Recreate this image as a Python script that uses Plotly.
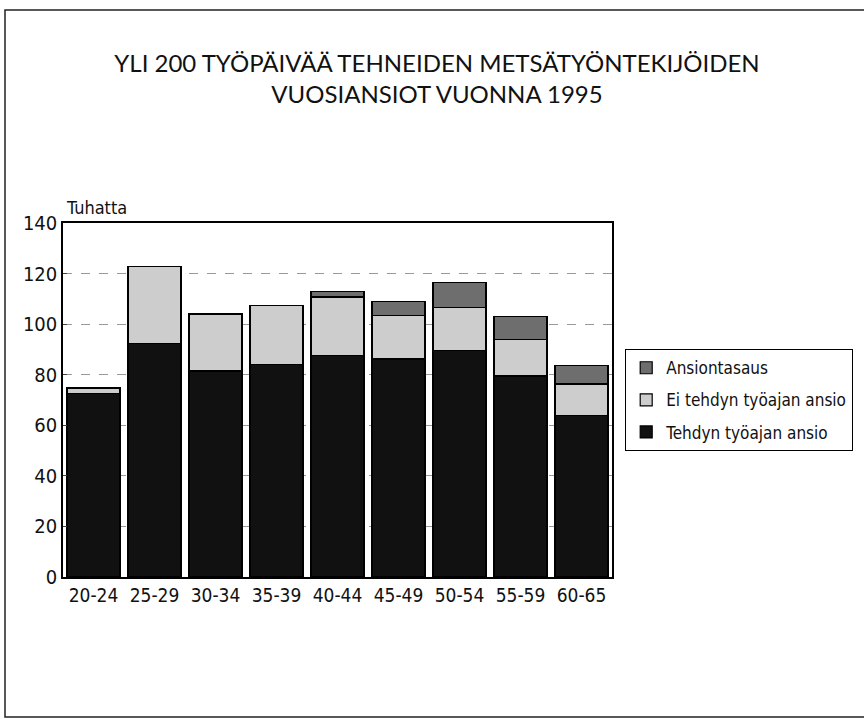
import plotly.graph_objects as go

categories = ["20-24", "25-29", "30-34", "35-39", "40-44", "45-49", "50-54", "55-59", "60-65"]
tehdyn = [72.5, 92.2, 81.5, 83.9, 87.6, 86.2, 89.7, 79.5, 63.9]
ei_tehdyn = [2.0, 30.6, 22.5, 23.4, 23.1, 17.2, 17.0, 14.5, 12.4]
ansiontasaus = [0.3, 0.0, 0.0, 0.0, 2.2, 5.6, 9.8, 8.9, 7.3]
series_names = ["Tehdyn työajan ansio", "Ei tehdyn työajan ansio", "Ansiontasaus"]
yticks = [0, 20, 40, 60, 80, 100, 120, 140]

FONT = "DejaVu Sans Condensed, Liberation Sans Narrow, Roboto, sans-serif"

fig = go.Figure()
fig.add_trace(go.Bar(x=categories, y=tehdyn, name=series_names[0], legendgroup="a", legendrank=3,
                     marker=dict(color="#111111", line=dict(color="#000000", width=1.2))))
fig.add_trace(go.Bar(x=categories, y=ei_tehdyn, name=series_names[1], legendgroup="b", legendrank=2,
                     marker=dict(color="#cdcdcd", line=dict(color="#000000", width=1.2))))
fig.add_trace(go.Bar(x=categories, y=ansiontasaus, name=series_names[2], legendgroup="c", legendrank=1,
                     marker=dict(color="#6e6e6e", line=dict(color="#000000", width=1.2))))

L, R, T, B = 63, 252, 223, 142
W, H = 864, 719
pw = W - L - R
ph = H - T - B

def px_x(x):
    return (x - L) / pw

def px_y(y):
    return (H - B - y) / ph

fig.update_layout(
    width=W, height=H,
    margin=dict(l=L, r=R, t=T, b=B, autoexpand=False),
    barmode="stack", bargap=0.13,
    paper_bgcolor="white", plot_bgcolor="white",
    font=dict(family=FONT, size=18, color="#111111"),
    title=dict(text="YLI 200 TYÖPÄIVÄÄ TEHNEIDEN METSÄTYÖNTEKIJÖIDEN<br>VUOSIANSIOT VUONNA 1995",
               x=437 / W, xref="container", xanchor="center", y=1 - 72 / H, yref="container",
               yanchor="top", pad=dict(t=0),
               font=dict(family="Lato, Noto Sans, sans-serif", size=24, color="#111111")),
    showlegend=True,
    legend=dict(x=px_x(625), y=px_y(349), xanchor="left", yanchor="top",
                traceorder="grouped", tracegroupgap=7,
                bordercolor="#000000", borderwidth=1.2,
                bgcolor="white", font=dict(family=FONT, size=17), itemwidth=30),
    xaxis=dict(showline=True, linecolor="#000000", linewidth=1.5, mirror=True,
               ticks="", tickfont=dict(size=19)),
    yaxis=dict(range=[0, 140], tickvals=yticks, showline=True, linecolor="#000000",
               linewidth=1.5, mirror=True, ticks="inside", ticklen=4,
               showgrid=True, gridcolor="#999999", griddash="dash", gridwidth=1,
               tickfont=dict(size=20), zeroline=False),
    annotations=[dict(text="Tuhatta", x=px_x(64), y=px_y(208), xref="paper", yref="paper",
                      xanchor="left", yanchor="middle", showarrow=False,
                      font=dict(family=FONT, size=18))],
    shapes=[dict(type="rect", xref="paper", yref="paper",
                 x0=px_x(5), x1=px_x(1000), y0=px_y(717), y1=px_y(10),
                 line=dict(color="#222222", width=1.5), fillcolor="rgba(0,0,0,0)", layer="below")],
)

fig.write_html("out.html", config={"displayModeBar": False},
               post_script="document.body.style.margin='0px';")
